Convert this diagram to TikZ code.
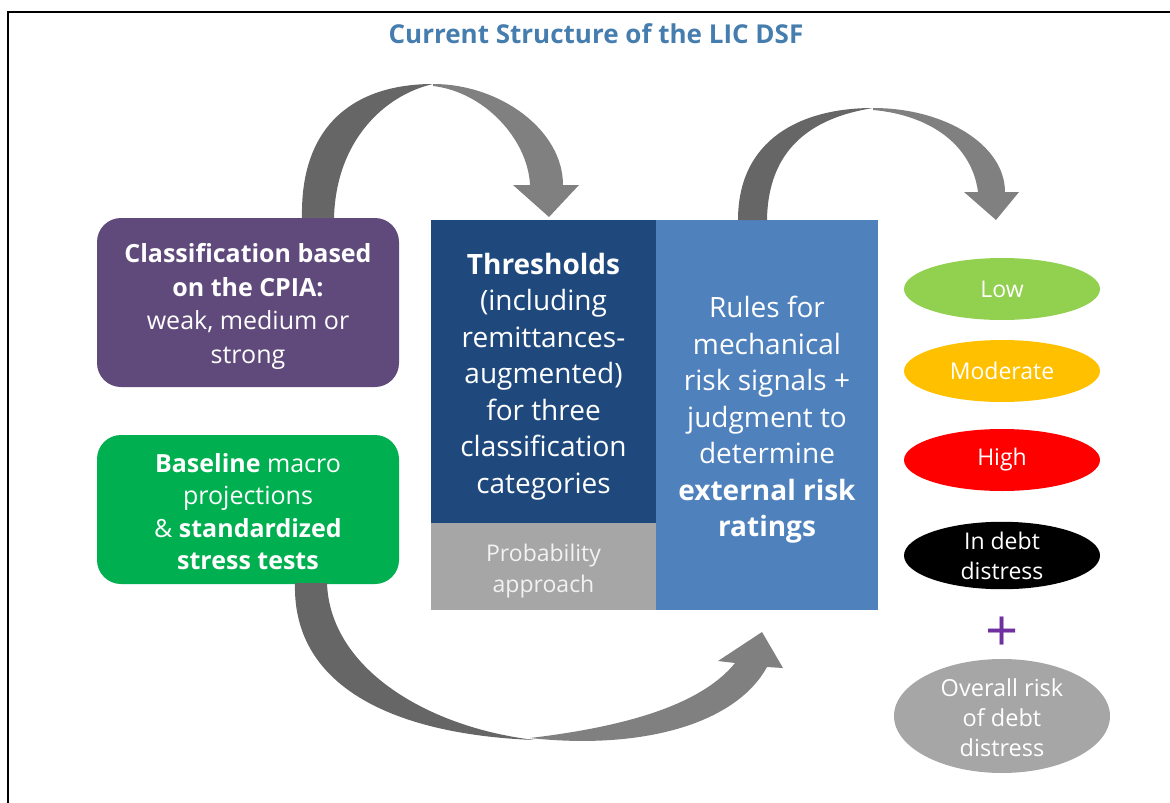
\documentclass[tikz,border=0pt]{standalone}
\usepackage{fontspec}
\setmainfont{Open Sans}
\usetikzlibrary{shapes.geometric}
\definecolor{titleblue}{RGB}{70,125,175}
\definecolor{cpiapurple}{RGB}{96,74,123}
\definecolor{basegreen}{RGB}{0,176,80}
\definecolor{darkblue}{RGB}{31,73,125}
\definecolor{midblue}{RGB}{79,129,189}
\definecolor{probgray}{RGB}{166,166,166}
\definecolor{lowgreen}{RGB}{146,208,80}
\definecolor{modorange}{RGB}{255,192,0}
\definecolor{highred}{RGB}{255,0,0}
\definecolor{plusviolet}{RGB}{112,48,160}
\definecolor{arrowdark}{RGB}{102,102,102}
\definecolor{arrowlight}{RGB}{128,128,128}
\begin{document}
\begin{tikzpicture}[x=1pt,y=-1pt,
  box/.style={inner sep=0pt},
  boxtext/.style={inner sep=0pt, text=white, align=center},
  roundbox/.style={box, rounded corners=24pt, minimum width=302pt},
  squarebox/.style={box, minimum width=225pt},
  riskoval/.style={ellipse, inner sep=0pt, text=white, align=center,
     minimum width=196pt, minimum height=62pt, font=\fontsize{23}{30}\selectfont}]
\useasboundingbox (0,0) rectangle (1170,803);
% frame
\draw[line width=2pt] (8,803) -- (8,12) -- (1170,12);
% title
\node[text=titleblue, font=\fontsize{26}{30}\selectfont\bfseries] (title) at (596,34) {Current Structure of the LIC DSF};
% left boxes
\node[roundbox, fill=cpiapurple, minimum height=169pt] (cpia) at (248,302.5) {};
\node[boxtext, font=\fontsize{25}{33.5}\selectfont] (cpiatext) at ([yshift=-4pt]cpia.center)
  {\textbf{Classification based}\\\textbf{on the CPIA:}\\weak, medium or\\strong};
\node[roundbox, fill=basegreen, minimum height=149pt] (base) at (248,509.5) {};
\node[boxtext, font=\fontsize{25}{32.5}\selectfont] (basetext) at ([yshift=-2pt]base.center)
  {\textbf{Baseline} macro\\projections\\\& \textbf{standardized}\\\textbf{stress tests}};
% middle boxes
\node[squarebox, fill=darkblue, minimum height=303pt] (thr) at (543.5,371.5) {};
\node[boxtext, font=\fontsize{28}{36.5}\selectfont] (thrtext) at ([yshift=-5pt]thr.center)
  {\textbf{Thresholds}\\(including\\remittances-\\augmented)\\for three\\classification\\categories};
\node[squarebox, fill=probgray, minimum height=87pt] (prob) at (543.5,566.5) {};
\node[boxtext, text=white!95!black, font=\fontsize{23}{31}\selectfont] (probtext) at ([yshift=-5pt]prob.center)
  {Probability\\approach};
\node[box, fill=midblue, minimum width=222pt, minimum height=390pt] (rules) at (767,415) {};
\node[boxtext, font=\fontsize{28}{36.5}\selectfont] (rulestext) at ([yshift=-5pt]rules.center)
  {Rules for\\mechanical\\risk signals +\\judgment to\\determine\\\textbf{external risk}\\\textbf{ratings}};
% risk ovals
\node[riskoval, fill=lowgreen] (low) at (1002,289) {Low};
\node[riskoval, fill=modorange] (mod) at (1002,371) {Moderate};
\node[riskoval, fill=highred] (high) at (1002,460) {High};
\node[riskoval, fill=black, minimum height=63pt] (indist) at (1002,555.5) {In debt\\distress};
\node[text=plusviolet, font=\fontsize{58}{58}\selectfont] (plus) at (1002,634) {+};
\node[ellipse, inner sep=0pt, fill=probgray, minimum width=216pt, minimum height=114pt] (overall) at (1002,716) {};
\node[boxtext, font=\fontsize{23.5}{30}\selectfont] (overalltext) at ([yshift=-2pt]overall.center) {Overall risk\\of debt\\distress};
% arrow 1: CPIA -> thresholds
\fill[arrowdark] (302,218) .. controls (300,120) and (360,84) .. (433,84)
   .. controls (385,95) and (336,140) .. (334,218) -- cycle;
\fill[arrowlight] (433,84) .. controls (500,84) and (563,130) .. (563,185)
   -- (579,185) -- (549,217) -- (513,185) -- (530,185)
   .. controls (528,140) and (485,92) .. (433,86) -- cycle;
% arrow 2: rules -> ratings
\fill[arrowdark] (738,220) .. controls (738,140) and (800,108) .. (873,108)
   .. controls (810,118) and (768,150) .. (767,220) -- cycle;
\fill[arrowlight] (873,108) .. controls (945,108) and (1005,145) .. (1005,192)
   -- (1019,192) -- (996,220) -- (964,192) -- (978,192)
   .. controls (972,145) and (930,115) .. (873,110) -- cycle;
% arrow 3: baseline -> rules
\fill[arrowdark] (295,583) .. controls (292,690) and (400,735) .. (535,740)
   .. controls (430,728) and (330,670) .. (327,583) -- cycle;
\fill[arrowlight] (530,738) .. controls (640,750) and (735,725) .. (767,667)
   -- (783,668) -- (762,632) -- (718,661) -- (735,663)
   .. controls (705,700) and (640,725) .. (530,738) -- cycle;
\end{tikzpicture}
\end{document}
